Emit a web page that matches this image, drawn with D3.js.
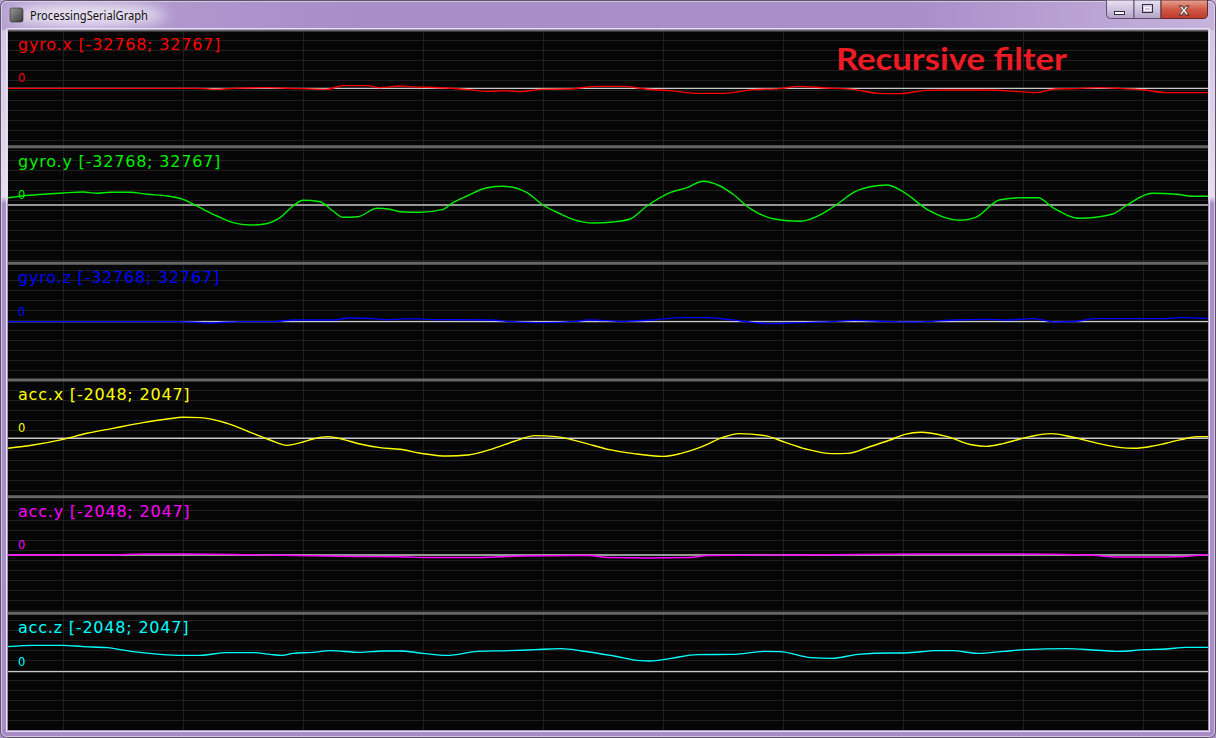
<!DOCTYPE html>
<html><head><meta charset="utf-8">
<script src="https://cdn.jsdelivr.net/npm/d3@7/dist/d3.min.js"></script>
<style>html,body{margin:0;padding:0;background:#fff;overflow:hidden}svg{display:block}</style>
</head><body>
<svg id="chart" width="1216" height="738"></svg>
<script>
// ---------------- DATA ----------------
const windowTitle = "ProcessingSerialGraph";
const annotation = "Recursive filter";
const channelNames = ["gyro.x", "gyro.y", "gyro.z", "acc.x", "acc.y", "acc.z"];
const channelMin = [-32768, -32768, -32768, -2048, -2048, -2048];
const channelMax = [32767, 32767, 32767, 2047, 2047, 2047];
const channelColors = ["#ff0000", "#00ee00", "#0000ff", "#ffff00", "#ff00ff", "#00ffff"];
const zeroLabel = "0";
const sampleCount = 1200;

const gyroX_t = [0,190,209,225,259,292,319,335,359,372,392,402,439,460,481,496,512,533,559,590,616,637,663,689,715,746,772,790,819,845,871,892,918,939,975,1007,1027,1048,1069,1090,1111,1137,1158,1200];
const gyroX_v = [0,0,-560,0,390,-170,-560,1520,1520,390,1290,960,170,-730,-1690,-1290,-1850,-560,-390,1120,1120,-390,-1290,-2810,-2810,-730,-170,1120,170,-560,-2810,-2980,-1120,-960,-960,-1690,-2420,-390,-170,390,0,-960,-2420,-2420];

const gyroY_t = [0,14,35,55,75,89,102,122,139,159,175,192,209,225,242,255,272,285,295,312,325,335,350,369,382,392,412,435,445,459,479,495,519,535,552,565,585,605,622,639,662,679,695,712,725,742,765,792,815,829,847,862,879,895,919,952,967,992,1014,1030,1045,1072,1104,1120,1144,1169,1184,1200];
const gyroY_v = [4100,5060,6010,6740,7300,6570,7130,7130,6010,5060,3200,-1520,-6180,-9940,-11240,-10840,-7130,-560,2640,1850,-3370,-6910,-6570,-1850,-2420,-3760,-4100,-2420,1290,5060,9720,10510,6910,0,-4890,-8030,-10110,-9550,-7870,-560,6910,9720,13310,10670,6010,-1850,-7700,-9160,-4660,390,7470,10280,11240,7470,-2420,-8600,-7130,2980,4100,4100,-1520,-7470,-5220,390,6570,6010,4890,4890];

const gyroZ_t = [0,171,202,233,264,287,326,341,365,380,403,427,481,504,535,567,582,613,644,675,699,722,745,761,792,823,846,885,908,947,978,1001,1025,1048,1071,1087,1118,1157,1172,1200];
const gyroZ_v = [0,0,-730,0,0,960,960,2080,1690,1120,1690,1120,960,0,-560,170,960,170,960,2250,2250,1120,-390,-1120,-560,0,730,0,-170,960,1290,960,1690,-170,390,1690,1690,1690,2250,1850];

const accX_t = [0,25,55,79,105,135,159,175,192,219,245,262,279,295,305,320,335,352,372,392,413,439,460,486,507,527,548,574,600,626,655,673,694,715,731,757,777,798,824,840,861,882,897,913,939,965,978,996,1022,1043,1064,1090,1111,1126,1147,1173,1189,1200];
const accX_v = [-351,-235,-35,176,351,551,677,737,727,527,176,-60,-246,-130,-25,60,-35,-200,-326,-386,-527,-621,-586,-351,-95,95,60,-140,-386,-537,-632,-527,-291,35,165,95,-140,-376,-537,-527,-305,-60,140,211,60,-235,-281,-176,60,165,46,-176,-316,-351,-256,-46,60,60];

const accY_t = [0,100,135,175,275,345,392,420,470,515,580,600,640,682,700,790,850,920,1000,1080,1110,1160,1200];
const accY_v = [0,0,35,35,-10,-53,-60,-88,-88,-35,-18,-88,-105,-88,-18,0,18,35,35,0,-70,-70,18];

const accZ_t = [0,25,55,75,99,125,152,175,192,219,245,262,274,285,305,322,352,375,392,415,439,470,501,527,553,574,606,632,642,663,689,725,757,772,803,824,850,882,897,928,944,970,996,1017,1059,1085,1108,1137,1158,1178,1200];
const accZ_v = [878,923,923,878,842,702,607,572,572,667,667,607,572,642,677,737,677,727,727,642,572,713,737,772,807,727,551,386,376,467,597,607,713,702,491,467,607,656,656,737,737,642,713,772,807,762,713,772,797,853,853];

const seriesT = [gyroX_t, gyroY_t, gyroZ_t, accX_t, accY_t, accZ_t];
const seriesV = [gyroX_v, gyroY_v, gyroZ_v, accX_v, accY_v, accZ_v];

// ---------------- LAYOUT ----------------
const W = 1216, H = 738;
const client = {x: 8, y: 30, w: 1200, h: 700};
const panelH = client.h / channelNames.length;

const svg = d3.select("#chart");
const defs = svg.append("defs");

const tg = defs.append("linearGradient").attr("id", "titleGrad").attr("x1", 0).attr("x2", 1).attr("y1", 0).attr("y2", 0);
tg.append("stop").attr("offset", 0).attr("stop-color", "#b6a0d2");
tg.append("stop").attr("offset", 0.3).attr("stop-color", "#a88dc8");
tg.append("stop").attr("offset", 0.75).attr("stop-color", "#a98ec9");
tg.append("stop").attr("offset", 1).attr("stop-color", "#c6b3dc");

const sg = defs.append("linearGradient").attr("id", "sideGrad").attr("gradientUnits", "userSpaceOnUse")
  .attr("x1", 0).attr("x2", 0).attr("y1", 30).attr("y2", 738);
sg.append("stop").attr("offset", 0).attr("stop-color", "#d4c6e4");
sg.append("stop").attr("offset", 0.235).attr("stop-color", "#e6def0");
sg.append("stop").attr("offset", 0.245).attr("stop-color", "#aa90ca");
sg.append("stop").attr("offset", 1).attr("stop-color", "#a78cc7");

const bg = defs.append("linearGradient").attr("id", "btnGrad").attr("x1", 0).attr("x2", 0).attr("y1", 0).attr("y2", 1);
bg.append("stop").attr("offset", 0).attr("stop-color", "#eae4f2");
bg.append("stop").attr("offset", 0.5).attr("stop-color", "#cfc3de");
bg.append("stop").attr("offset", 1).attr("stop-color", "#b3a3c8");

const cg = defs.append("linearGradient").attr("id", "closeGrad").attr("x1", 0).attr("x2", 0).attr("y1", 0).attr("y2", 1);
cg.append("stop").attr("offset", 0).attr("stop-color", "#e8a496");
cg.append("stop").attr("offset", 0.5).attr("stop-color", "#cf5a45");
cg.append("stop").attr("offset", 1).attr("stop-color", "#c0392b");

const ig = defs.append("linearGradient").attr("id", "iconGrad").attr("x1", 0).attr("x2", 1).attr("y1", 0).attr("y2", 1);
ig.append("stop").attr("offset", 0).attr("stop-color", "#9a9a9a");
ig.append("stop").attr("offset", 1).attr("stop-color", "#3a3a3a");

defs.append("filter").attr("id", "glow").attr("x", "-50%").attr("y", "-50%").attr("width", "200%").attr("height", "200%")
  .append("feGaussianBlur").attr("stdDeviation", 7);

defs.append("clipPath").attr("id", "clientClip").append("rect")
  .attr("x", client.x).attr("y", client.y).attr("width", client.w).attr("height", client.h);

// ---------------- WINDOW FRAME ----------------
svg.append("rect").attr("x", 0).attr("y", 0).attr("width", W).attr("height", H).attr("fill", "#a78cc7");
svg.append("rect").attr("x", 0).attr("y", 0).attr("width", W).attr("height", 30).attr("fill", "url(#titleGrad)");
svg.append("rect").attr("x", 0).attr("y", 30).attr("width", 8).attr("height", 708).attr("fill", "url(#sideGrad)");
svg.append("rect").attr("x", 1208).attr("y", 30).attr("width", 8).attr("height", 708).attr("fill", "url(#sideGrad)");
svg.append("ellipse").attr("cx", 88).attr("cy", 15).attr("rx", 78).attr("ry", 11)
  .attr("fill", "#ffffff").attr("opacity", 0.75).attr("filter", "url(#glow)");
svg.append("rect").attr("x", 0.5).attr("y", 0.5).attr("width", W - 1).attr("height", H - 1)
  .attr("rx", 6).attr("fill", "none").attr("stroke", "#5c5468").attr("stroke-width", 1);
svg.append("rect").attr("x", 1.5).attr("y", 1.5).attr("width", W - 3).attr("height", H - 3)
  .attr("rx", 5).attr("fill", "none").attr("stroke", "#e4dcee").attr("stroke-opacity", 0.7).attr("stroke-width", 1);
svg.append("rect").attr("x", client.x - 1.5).attr("y", client.y - 1.5).attr("width", client.w + 3).attr("height", client.h + 3)
  .attr("fill", "none").attr("stroke", "#e8e2ee").attr("stroke-width", 1);

svg.append("rect").attr("x", 10).attr("y", 8).attr("width", 13).attr("height", 14).attr("rx", 2)
  .attr("fill", "url(#iconGrad)").attr("stroke", "#2e2e2e").attr("stroke-width", 0.6);
svg.append("text").attr("x", 30).attr("y", 20).text(windowTitle)
  .attr("font-family", "'Noto Sans', 'Open Sans', sans-serif").attr("font-size", 12)
  .attr("textLength", 118).attr("lengthAdjust", "spacingAndGlyphs").attr("fill", "#101010");

const btn = svg.append("g");
btn.append("path").attr("d", "M1106.5,0 V14.5 Q1106.5,18.5 1110.5,18.5 H1134 V0 Z")
  .attr("fill", "url(#btnGrad)").attr("stroke", "#5e5070").attr("stroke-width", 1);
btn.append("rect").attr("x", 1134).attr("y", 0).attr("width", 27).attr("height", 18.5)
  .attr("fill", "url(#btnGrad)").attr("stroke", "#5e5070").attr("stroke-width", 1);
btn.append("path").attr("d", "M1161,0 V18.5 H1203 Q1207.5,18.5 1207.5,14 V0 Z")
  .attr("fill", "url(#closeGrad)").attr("stroke", "#5a2c2c").attr("stroke-width", 1);
btn.append("rect").attr("x", 1114.5).attr("y", 11.5).attr("width", 10).attr("height", 3)
  .attr("fill", "#ffffff").attr("stroke", "#2f2f3f").attr("stroke-width", 1);
btn.append("rect").attr("x", 1142.5).attr("y", 4.5).attr("width", 10).attr("height", 8)
  .attr("fill", "none").attr("stroke", "#2f2f3f").attr("stroke-width", 1);
btn.append("rect").attr("x", 1144.5).attr("y", 7.5).attr("width", 6).attr("height", 3)
  .attr("fill", "none").attr("stroke", "#ffffff").attr("stroke-width", 1);
btn.append("text").attr("x", 1184).attr("y", 15).attr("text-anchor", "middle").text("x")
  .attr("font-family", "'DejaVu Sans', sans-serif").attr("font-weight", "bold").attr("font-size", 16)
  .attr("fill", "#ffffff").attr("stroke", "#4a2a2a").attr("stroke-width", 0.8);

// ---------------- CLIENT AREA ----------------
const plot = svg.append("g").attr("clip-path", "url(#clientClip)");
plot.append("rect").attr("x", client.x).attr("y", client.y).attr("width", client.w).attr("height", client.h).attr("fill", "#060606");

const xScale = d3.scaleLinear().domain([0, sampleCount]).range([client.x, client.x + client.w]);
const pixScaleY = d3.scaleLinear().domain([0, client.h]).range([client.y, client.y + client.h]);

const vGrid = d3.range(55, sampleCount, 120);
const hGrid = d3.range(10, client.h, 10);
plot.append("g").selectAll("line").data(vGrid).join("line")
  .attr("x1", d => Math.round(xScale(d)) + 0.5).attr("x2", d => Math.round(xScale(d)) + 0.5)
  .attr("y1", client.y).attr("y2", client.y + client.h)
  .attr("stroke", "#1f1f1f").attr("stroke-width", 1);
plot.append("g").selectAll("line").data(hGrid).join("line")
  .attr("x1", client.x).attr("x2", client.x + client.w)
  .attr("y1", d => Math.round(pixScaleY(d)) + 0.5).attr("y2", d => Math.round(pixScaleY(d)) + 0.5)
  .attr("stroke", "#1f1f1f").attr("stroke-width", 1);

channelNames.forEach((name, i) => {
  const top = client.y + i * panelH;
  const bottom = top + panelH;
  const y = d3.scaleLinear().domain([channelMin[i], channelMax[i]]).range([bottom, top]);
  const g = plot.append("g");
  const color = channelColors[i];

  g.append("line").attr("x1", client.x).attr("x2", client.x + client.w)
    .attr("y1", top).attr("y2", top).attr("stroke", "#666666").attr("stroke-width", 3);

  const y0 = y(0);
  g.append("line").attr("x1", client.x).attr("x2", client.x + client.w)
    .attr("y1", y0).attr("y2", y0).attr("stroke", "#c8c8c8").attr("stroke-width", 1.4);

  const pts = seriesT[i].map((t, k) => [t, seriesV[i][k]]);
  const line = d3.line().x(d => xScale(d[0])).y(d => y(d[1])).curve(d3.curveMonotoneX);
  g.append("path").datum(pts).attr("d", line).attr("fill", "none")
    .attr("stroke", color).attr("stroke-width", 1.4).attr("stroke-linejoin", "round");

  g.append("text").attr("x", 18).attr("y", top + 20)
    .text(`${name} [${channelMin[i]}; ${channelMax[i]}]`)
    .attr("font-family", "'DejaVu Sans', sans-serif").attr("font-size", 16)
    .attr("letter-spacing", 0.8).attr("fill", color);

  g.append("text").attr("x", 18).attr("y", y0 - 6).text(zeroLabel)
    .attr("font-family", "'DejaVu Sans', sans-serif").attr("font-size", 11.5).attr("fill", color);
});

plot.append("text").attr("x", 836).attr("y", 70).text(annotation)
  .attr("font-family", "Lato, 'Open Sans', sans-serif").attr("font-weight", "bold").attr("font-size", 31)
  .attr("textLength", 231).attr("lengthAdjust", "spacingAndGlyphs").attr("fill", "#ed1c24");
</script>
</body></html>
